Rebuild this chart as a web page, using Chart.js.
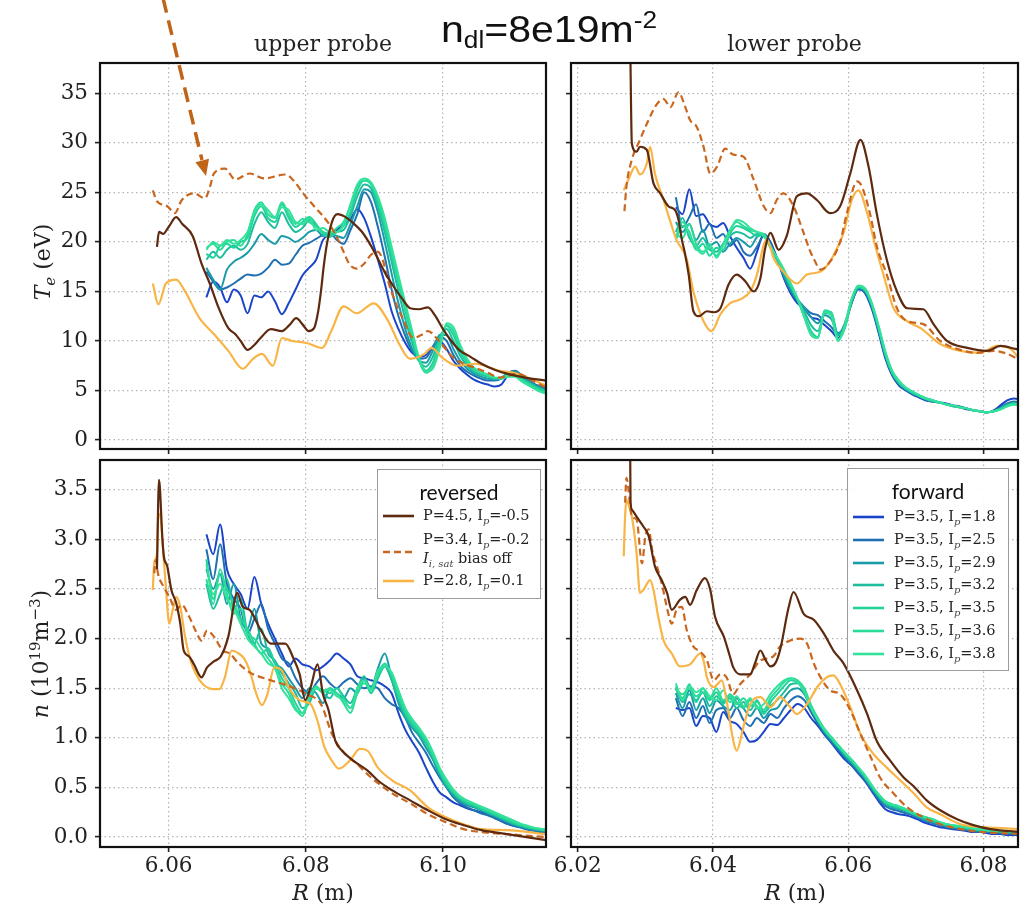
<!DOCTYPE html>
<html>
<head>
<meta charset="utf-8">
<script src="https://cdn.jsdelivr.net/npm/chart.js@4.4.0/dist/chart.umd.min.js"></script>
<style>
  body { margin: 0; background: #fff; }
  #fig { position: relative; width: 1025px; height: 906px; overflow: hidden; background: #fff; }
  #fig canvas { position: absolute; left: 0; top: 0; z-index: 1; }
  .lab { position: absolute; z-index: 2; font-family: 'DejaVu Serif', serif; font-size: 22px; color: #222; white-space: nowrap; transform: translate(-50%, -50%); }
  .ylab { transform: translate(-50%, -50%) rotate(-90deg); }
  .sm { font-size: 15px; position: relative; }
  .legend { position: absolute; z-index: 3; background: rgba(255,255,255,0.92); border: 1.5px solid #9c9c9c; box-sizing: border-box; font-family: 'DejaVu Serif', serif; font-size: 14.5px; color: #222; }
  .legend .ttl { position: absolute; left: 0; right: 0; text-align: center; font-family: Lato, sans-serif; font-size: 21px; line-height: 21px; color: #111; }
  .legend .txt { position: absolute; white-space: nowrap; line-height: 16px; }
  .legend svg { position: absolute; }
  .legend .p { font-style: italic; font-size: 10px; position: relative; top: 4px; color: #444; }
  #suptitle { position: absolute; z-index: 2; left: 441px; top: 10px; font-family: 'Liberation Sans', Arial, sans-serif; font-size: 36px; line-height: 40px; color: #111; white-space: nowrap; transform: scaleX(1.14); transform-origin: 0 0; }
  #arrow { position: absolute; left: 0; top: 0; z-index: 2; }
</style>
</head>
<body>
<div id="fig">
  <canvas id="teUpper" width="1025" height="906"></canvas>
  <canvas id="teLower" width="1025" height="906"></canvas>
  <canvas id="nUpper" width="1025" height="906"></canvas>
  <canvas id="nLower" width="1025" height="906"></canvas>

  <svg id="arrow" width="1025" height="906">
    <line x1="163" y1="-2" x2="202" y2="160" stroke="#bf6419" stroke-width="3.5" stroke-dasharray="15 8"/>
    <polygon points="206,176 195.4,162.2 209,158.8" fill="#bf6419"/>
  </svg>

  <div id="suptitle">n<span style="font-size:23px;position:relative;top:6px">dl</span>=8e19m<span style="font-size:23px;position:relative;top:-14px">-2</span></div>

  <div class="lab ylab" style="left:42px;top:262px"><i>T</i><span class="sm" style="top:5px"><i>e</i></span> (eV)</div>
  <div class="lab ylab" style="left:40px;top:654px"><i>n</i> (10<span class="sm" style="top:-8px">19</span>m<span class="sm" style="top:-8px">−3</span>)</div>
  <div class="lab" style="left:323px;top:892px"><i>R</i> (m)</div>
  <div class="lab" style="left:795px;top:892px"><i>R</i> (m)</div>

  <div class="legend" id="legRev" style="left:377px;top:469px;width:164px;height:130px"></div>
  <div class="legend" id="legFwd" style="left:847px;top:468px;width:162px;height:203px"></div>
</div>

<script>
// ---- ticks and axis ranges ----
var teTicks = [0, 5, 10, 15, 20, 25, 30, 35];
var nTicks = [0, 0.5, 1.0, 1.5, 2.0, 2.5, 3.0, 3.5];
var rTicksUpper = [6.06, 6.08, 6.10];
var rTicksLower = [6.02, 6.04, 6.06, 6.08];
var rRangeUpper = [6.05, 6.115];
var rRangeLower = [6.019, 6.0851];
var teRange = [-0.9, 38.05];
var nRange = [-0.1, 3.8];

// ---- R grids of the forward scans ----
var rUpperFwd = [6.0655, 6.0665, 6.0675, 6.0685, 6.0695, 6.0705, 6.0715, 6.0725, 6.0735, 6.0745, 6.0755, 6.0765, 6.0775, 6.0785, 6.0795, 6.0805, 6.0815, 6.0825, 6.0835, 6.0845, 6.0855, 6.0865, 6.0875, 6.0885, 6.0895, 6.0905, 6.0915, 6.0925, 6.0935, 6.0945, 6.0955, 6.0965, 6.0975, 6.0985, 6.0995, 6.1005, 6.1015, 6.1025, 6.1035, 6.1045, 6.1055, 6.1065, 6.1075, 6.1085, 6.1095, 6.1105, 6.1115, 6.1125, 6.1135, 6.1145, 6.1155];
var rLowerFwd = [6.0345, 6.0355, 6.0365, 6.0375, 6.0385, 6.0395, 6.0405, 6.0415, 6.0425, 6.0435, 6.0445, 6.0455, 6.0465, 6.0475, 6.0485, 6.0495, 6.0505, 6.0515, 6.0525, 6.0535, 6.0545, 6.0555, 6.0565, 6.0575, 6.0585, 6.0595, 6.0605, 6.0615, 6.0625, 6.0635, 6.0645, 6.0655, 6.0665, 6.0675, 6.0685, 6.0695, 6.0705, 6.0715, 6.0725, 6.0735, 6.0745, 6.0755, 6.0765, 6.0775, 6.0785, 6.0795, 6.0805, 6.0815, 6.0825, 6.0835, 6.0845, 6.0855];

// ---- reversed field scans: [R, value] ----
var teUpP45 = [[6.0583,19.5],[6.0586,21.0],[6.0592,20.8],[6.0600,21.5],[6.0611,22.5],[6.0620,21.8],[6.0635,20.6],[6.0648,17.8],[6.0660,15.8],[6.0672,13.5],[6.0687,11.3],[6.0697,10.7],[6.0705,10.0],[6.0715,9.1],[6.0725,9.6],[6.0734,10.3],[6.0749,11.2],[6.0765,11.0],[6.0776,11.6],[6.0786,12.3],[6.0796,11.6],[6.0804,11.0],[6.0812,11.3],[6.0818,13.0],[6.0822,15.0],[6.0826,17.5],[6.0830,19.5],[6.0838,22.0],[6.0846,22.8],[6.0858,22.5],[6.0869,21.9],[6.0882,21.0],[6.0895,19.6],[6.0905,18.3],[6.0916,16.8],[6.0926,15.7],[6.0940,14.3],[6.0952,13.3],[6.0965,13.2],[6.0978,13.4],[6.0988,12.6],[6.0999,11.3],[6.1012,10.0],[6.1025,9.0],[6.1040,8.4],[6.1056,7.7],[6.1075,7.1],[6.1093,6.7],[6.1120,6.3],[6.1150,6.0]];
var teUpP34 = [[6.0577,25.2],[6.0583,24.1],[6.0598,23.6],[6.0609,22.9],[6.0619,24.2],[6.0637,24.9],[6.0653,24.4],[6.0660,25.5],[6.0666,26.9],[6.0682,27.4],[6.0697,26.3],[6.0718,26.9],[6.0739,26.4],[6.0770,26.8],[6.0782,26.2],[6.0796,24.9],[6.0812,23.6],[6.0833,21.9],[6.0845,20.5],[6.0853,19.3],[6.0864,17.7],[6.0874,17.3],[6.0885,17.8],[6.0895,18.7],[6.0905,19.0],[6.0912,18.2],[6.0920,16.0],[6.0930,14.0],[6.0941,12.3],[6.0957,10.3],[6.0968,10.6],[6.0978,11.0],[6.0994,10.0],[6.1015,8.3],[6.1030,7.7],[6.1046,7.3],[6.1065,6.8],[6.1082,6.3],[6.1095,6.5],[6.1108,6.7],[6.1130,6.0],[6.1150,5.3]];
var teUpP28 = [[6.0577,15.8],[6.0585,13.7],[6.0596,15.8],[6.0611,16.2],[6.0624,15.0],[6.0645,12.3],[6.0666,10.7],[6.0687,9.0],[6.0708,7.2],[6.0723,8.2],[6.0736,8.7],[6.0752,7.5],[6.0765,10.3],[6.0780,10.0],[6.0801,9.8],[6.0824,9.3],[6.0837,11.0],[6.0855,13.5],[6.0874,12.8],[6.0899,13.8],[6.0920,12.0],[6.0936,9.7],[6.0952,8.2],[6.0973,8.7],[6.0983,9.3],[6.0999,8.3],[6.1020,7.5],[6.1046,7.7],[6.1082,7.0],[6.1108,6.7],[6.1150,5.5]];

var teLoP45 = [[6.0277,45],[6.0278,38],[6.0280,29.9],[6.0287,29.1],[6.0292,29.6],[6.0302,29.3],[6.0312,25.9],[6.0322,24.9],[6.0334,23.6],[6.0344,23.2],[6.0349,22.2],[6.0354,20.2],[6.0358,19.0],[6.0364,16.7],[6.0371,13.0],[6.0379,12.5],[6.0391,13.0],[6.0401,12.9],[6.0411,13.3],[6.0423,15.7],[6.0435,16.7],[6.0448,16.0],[6.0460,15.0],[6.0470,16.3],[6.0477,19.3],[6.0485,20.9],[6.0497,19.2],[6.0509,20.6],[6.0524,24.6],[6.0539,24.9],[6.0554,24.2],[6.0573,22.9],[6.0588,23.6],[6.0603,26.9],[6.0618,30.3],[6.0630,27.6],[6.0642,22.9],[6.0657,18.2],[6.0672,15.0],[6.0687,13.3],[6.0711,13.2],[6.0726,11.7],[6.0746,10.0],[6.0776,9.3],[6.0805,9.0],[6.0825,9.5],[6.0847,9.2],[6.0860,9.0]];
var teLoP34 = [[6.0269,23.1],[6.0272,25.6],[6.0280,28.3],[6.0292,30.3],[6.0302,31.9],[6.0317,33.9],[6.0327,34.4],[6.0337,33.6],[6.0349,35.1],[6.0359,33.6],[6.0366,32.3],[6.0376,31.6],[6.0386,29.6],[6.0396,26.9],[6.0406,27.6],[6.0418,29.4],[6.0430,28.8],[6.0445,28.6],[6.0460,26.3],[6.0475,23.6],[6.0485,22.9],[6.0494,24.2],[6.0504,24.9],[6.0519,23.6],[6.0534,20.9],[6.0544,19.0],[6.0549,18.3],[6.0559,17.2],[6.0573,18.0],[6.0588,20.0],[6.0598,22.9],[6.0613,26.1],[6.0620,25.6],[6.0633,22.6],[6.0642,19.6],[6.0657,16.7],[6.0672,13.3],[6.0687,12.0],[6.0711,11.7],[6.0736,10.0],[6.0761,9.2],[6.0790,8.8],[6.0815,9.0],[6.0835,8.7],[6.0860,7.8]];
var teLoP28 = [[6.0268,25.2],[6.0275,26.3],[6.0285,27.6],[6.0292,26.8],[6.0302,27.9],[6.0307,29.6],[6.0314,26.9],[6.0327,24.2],[6.0339,21.6],[6.0346,20.2],[6.0361,18.3],[6.0371,15.0],[6.0386,12.0],[6.0398,11.0],[6.0411,12.7],[6.0425,13.8],[6.0440,14.2],[6.0455,15.0],[6.0465,16.7],[6.0475,19.7],[6.0480,20.2],[6.0490,18.3],[6.0504,17.0],[6.0524,15.8],[6.0539,16.7],[6.0559,17.0],[6.0573,18.0],[6.0583,19.3],[6.0593,20.9],[6.0605,24.2],[6.0615,25.2],[6.0628,22.9],[6.0640,19.6],[6.0652,16.7],[6.0667,13.3],[6.0687,12.0],[6.0707,11.3],[6.0736,9.7],[6.0766,9.0],[6.0795,8.8],[6.0820,9.5],[6.0840,9.2],[6.0860,7.5]];

var nUpP45 = [[6.0583,2.7],[6.0586,3.6],[6.0591,3.0],[6.0593,2.83],[6.0598,2.73],[6.0604,2.49],[6.0611,2.36],[6.0617,2.15],[6.0622,1.88],[6.0630,1.82],[6.0637,1.74],[6.0648,1.61],[6.0656,1.71],[6.0666,1.77],[6.0676,1.82],[6.0687,2.02],[6.0700,2.46],[6.0708,2.32],[6.0718,2.29],[6.0734,2.09],[6.0749,1.95],[6.0770,1.95],[6.0782,1.8],[6.0791,1.64],[6.0799,1.38],[6.0807,1.51],[6.0817,1.74],[6.0825,1.44],[6.0833,1.28],[6.0843,0.97],[6.0853,0.87],[6.0869,0.77],[6.0890,0.67],[6.0905,0.57],[6.0926,0.47],[6.0952,0.37],[6.0978,0.27],[6.1004,0.18],[6.1030,0.12],[6.1056,0.07],[6.1093,0.03],[6.1150,-0.03]];
var nUpP34 = [[6.0579,2.66],[6.0581,2.79],[6.0585,2.64],[6.0593,2.52],[6.0601,2.42],[6.0611,2.29],[6.0619,2.34],[6.0630,2.22],[6.0640,2.07],[6.0648,1.98],[6.0656,2.08],[6.0666,2.02],[6.0679,1.88],[6.0689,1.85],[6.0702,1.75],[6.0718,1.66],[6.0749,1.58],[6.0780,1.51],[6.0801,1.44],[6.0822,1.34],[6.0838,1.04],[6.0853,0.87],[6.0874,0.74],[6.0895,0.60],[6.0926,0.44],[6.0952,0.34],[6.0978,0.23],[6.1004,0.15],[6.1030,0.08],[6.1056,0.05],[6.1093,0.03],[6.1150,0.0]];
var nUpP28 = [[6.0577,2.49],[6.0579,2.76],[6.0583,2.86],[6.0585,3.26],[6.0588,3.23],[6.0592,2.89],[6.0596,2.52],[6.0601,2.15],[6.0606,2.29],[6.0611,2.42],[6.0617,2.32],[6.0624,2.02],[6.0632,1.78],[6.0640,1.64],[6.0650,1.54],[6.0666,1.49],[6.0674,1.49],[6.0682,1.61],[6.0692,1.88],[6.0702,1.85],[6.0710,1.80],[6.0718,1.68],[6.0728,1.44],[6.0736,1.33],[6.0744,1.44],[6.0754,1.71],[6.0765,1.68],[6.0775,1.51],[6.0791,1.38],[6.0807,1.34],[6.0817,1.17],[6.0827,0.91],[6.0838,0.77],[6.0848,0.69],[6.0864,0.77],[6.0879,0.89],[6.0890,0.87],[6.0905,0.70],[6.0926,0.57],[6.0952,0.47],[6.0978,0.30],[6.1004,0.20],[6.1030,0.13],[6.1056,0.08],[6.1093,0.07],[6.1150,0.03]];

var nLoP45 = [[6.0277,4.5],[6.0278,3.4],[6.0280,3.3],[6.0287,3.23],[6.0297,3.13],[6.0305,3.03],[6.0314,2.73],[6.0324,2.59],[6.0332,2.46],[6.0339,2.29],[6.0351,2.39],[6.0359,2.42],[6.0366,2.34],[6.0376,2.49],[6.0388,2.61],[6.0396,2.49],[6.0403,2.22],[6.0416,2.02],[6.0425,1.82],[6.0430,1.71],[6.0440,1.64],[6.0455,1.64],[6.0462,1.75],[6.0470,1.88],[6.0478,1.78],[6.0485,1.72],[6.0492,1.75],[6.0499,1.88],[6.0512,2.32],[6.0519,2.47],[6.0534,2.25],[6.0549,2.19],[6.0564,2.05],[6.0578,1.88],[6.0593,1.75],[6.0613,1.48],[6.0628,1.24],[6.0642,0.97],[6.0662,0.77],[6.0682,0.60],[6.0697,0.51],[6.0716,0.37],[6.0736,0.27],[6.0761,0.18],[6.0785,0.12],[6.0810,0.08],[6.0860,0.05]];
var nLoP34 = [[6.0270,3.37],[6.0272,3.62],[6.0275,3.50],[6.0280,3.23],[6.0287,3.20],[6.0295,2.76],[6.0300,3.03],[6.0305,3.10],[6.0310,2.89],[6.0317,2.73],[6.0324,2.56],[6.0334,2.25],[6.0339,2.15],[6.0346,2.29],[6.0354,2.32],[6.0361,2.09],[6.0371,1.92],[6.0381,1.87],[6.0391,1.78],[6.0401,1.58],[6.0411,1.64],[6.0420,1.61],[6.0430,1.44],[6.0440,1.54],[6.0455,1.64],[6.0470,1.78],[6.0489,1.82],[6.0499,1.92],[6.0514,1.98],[6.0529,2.00],[6.0539,1.95],[6.0549,1.75],[6.0559,1.61],[6.0573,1.48],[6.0588,1.44],[6.0603,1.28],[6.0618,1.04],[6.0633,0.81],[6.0647,0.60],[6.0667,0.44],[6.0687,0.30],[6.0711,0.20],[6.0736,0.13],[6.0766,0.08],[6.0800,0.05],[6.0860,0.03]];
var nLoP28 = [[6.0268,2.83],[6.0270,3.23],[6.0272,3.40],[6.0276,3.33],[6.0280,3.23],[6.0287,2.86],[6.0292,2.46],[6.0297,2.49],[6.0307,2.59],[6.0312,2.49],[6.0319,2.22],[6.0327,1.98],[6.0339,1.85],[6.0351,1.72],[6.0366,1.74],[6.0381,1.85],[6.0386,1.78],[6.0391,1.61],[6.0401,1.51],[6.0413,1.58],[6.0420,1.38],[6.0430,0.97],[6.0435,0.87],[6.0445,1.11],[6.0455,1.34],[6.0470,1.41],[6.0485,1.31],[6.0499,1.41],[6.0514,1.31],[6.0524,1.24],[6.0539,1.34],[6.0554,1.51],[6.0568,1.61],[6.0578,1.63],[6.0588,1.54],[6.0603,1.31],[6.0618,1.04],[6.0637,0.84],[6.0657,0.70],[6.0677,0.57],[6.0697,0.44],[6.0716,0.30],[6.0736,0.23],[6.0766,0.13],[6.0800,0.10],[6.0860,0.08]];

// ---- forward field scans on the R grids (Ip = 1.8, 2.5, 2.9, 3.2, 3.5, 3.6, 3.8) ----
var teUpFwd18 = [14.4, 16.0, 15.4, 13.9, 15.2, 14.6, 12.8, 14.6, 14.4, 15.0, 14.0, 12.7, 13.8, 15.2, 16.6, 17.4, 18.2, 20.2, 20.8, 21.2, 21.8, 22.3, 23.3, 22.4, 20.5, 18.2, 15.8, 13.0, 11.2, 9.8, 8.8, 8.4, 8.6, 9.4, 10.0, 9.2, 8.0, 7.2, 6.6, 6.1, 5.8, 5.6, 5.4, 5.6, 6.6, 6.9, 6.4, 5.9, 5.5, 5.2, 5.0];
var teUpFwd25 = [17.0, 16.0, 15.2, 15.4, 15.8, 16.3, 16.7, 16.6, 16.8, 17.4, 18.2, 17.7, 17.8, 18.7, 19.6, 19.9, 20.3, 20.7, 20.9, 20.2, 19.8, 21.2, 22.8, 25.0, 24.0, 21.5, 18.5, 15.2, 12.5, 10.5, 9.0, 8.2, 8.3, 9.4, 10.4, 10.0, 8.6, 7.5, 6.9, 6.5, 6.2, 6.0, 6.0, 6.2, 6.8, 7.0, 6.5, 6.0, 5.6, 5.3, 5.0];
var teUpFwd29 = [17.4, 16.2, 15.2, 17.2, 18.0, 18.4, 18.9, 19.8, 20.8, 20.2, 19.8, 20.6, 20.4, 20.0, 20.4, 21.0, 21.2, 20.6, 20.8, 20.6, 20.4, 21.8, 23.6, 25.3, 25.0, 23.0, 20.0, 16.8, 13.8, 11.2, 9.2, 8.0, 7.8, 9.0, 10.6, 10.6, 9.2, 8.0, 7.2, 6.7, 6.4, 6.2, 6.1, 6.3, 6.8, 6.9, 6.4, 5.9, 5.5, 5.2, 4.9];
var teUpFwd32 = [18.2, 19.0, 18.4, 19.2, 19.6, 19.2, 19.8, 21.8, 23.0, 22.0, 21.4, 23.0, 21.8, 21.0, 21.4, 22.2, 21.6, 21.0, 20.6, 21.0, 21.2, 22.6, 24.6, 25.8, 25.4, 23.6, 21.0, 18.0, 15.0, 12.2, 9.8, 8.0, 7.4, 8.4, 10.4, 11.2, 10.0, 8.5, 7.5, 6.9, 6.6, 6.4, 6.2, 6.3, 6.7, 6.7, 6.2, 5.8, 5.4, 5.1, 4.8];
var teUpFwd35 = [18.8, 18.4, 19.6, 19.8, 19.4, 20.0, 20.4, 22.6, 23.6, 22.4, 22.0, 23.8, 22.4, 21.5, 22.0, 22.5, 21.8, 20.8, 20.5, 21.0, 21.6, 23.0, 25.2, 26.2, 25.8, 24.0, 21.6, 18.6, 15.8, 13.0, 10.4, 8.2, 7.0, 7.8, 10.0, 11.5, 10.6, 8.9, 7.8, 7.1, 6.8, 6.5, 6.3, 6.3, 6.6, 6.6, 6.1, 5.7, 5.3, 5.0, 4.8];
var teUpFwd36 = [19.4, 19.8, 19.2, 20.0, 20.2, 19.6, 20.8, 23.2, 24.0, 22.8, 22.4, 24.0, 22.8, 21.8, 22.3, 22.0, 21.5, 21.0, 20.8, 21.4, 22.0, 23.6, 25.6, 26.2, 25.9, 24.3, 22.0, 19.0, 16.2, 13.4, 10.6, 8.0, 6.8, 7.4, 9.6, 11.6, 11.0, 9.2, 8.0, 7.2, 6.8, 6.5, 6.3, 6.2, 6.5, 6.5, 6.0, 5.6, 5.2, 4.9, 4.7];
var teUpFwd38 = [19.2, 20.0, 19.6, 20.2, 19.8, 20.2, 21.0, 23.0, 23.8, 23.2, 22.5, 23.5, 23.2, 22.0, 21.8, 22.4, 21.2, 21.4, 21.0, 21.0, 21.8, 23.8, 25.8, 26.4, 26.0, 24.6, 22.4, 19.5, 16.6, 13.8, 11.0, 8.3, 6.9, 7.2, 9.2, 11.8, 11.4, 9.6, 8.2, 7.3, 6.9, 6.6, 6.3, 6.2, 6.4, 6.4, 5.9, 5.5, 5.1, 4.8, 4.6];

var teLoFwd18 = [23.5, 22.8, 25.3, 22.6, 22.8, 21.8, 21.5, 21.9, 20.6, 19.4, 18.4, 17.3, 19.0, 20.8, 20.0, 18.3, 16.3, 14.8, 13.8, 13.3, 12.4, 12.2, 11.6, 11.0, 10.3, 11.6, 13.8, 15.3, 14.8, 13.2, 10.8, 8.2, 6.5, 5.5, 5.0, 4.6, 4.3, 4.0, 3.9, 3.8, 3.7, 3.5, 3.3, 3.1, 3.0, 2.9, 2.8, 3.0, 3.5, 4.0, 4.2, 4.1];
var teLoFwd25 = [24.5, 21.5, 22.5, 23.8, 21.0, 21.8, 20.4, 20.8, 19.6, 20.2, 19.0, 18.6, 19.5, 20.6, 19.8, 18.2, 16.4, 15.0, 14.0, 13.4, 12.8, 12.6, 12.0, 11.4, 10.6, 11.8, 13.9, 15.2, 14.9, 13.4, 11.0, 8.4, 6.6, 5.6, 5.1, 4.7, 4.4, 4.1, 3.9, 3.8, 3.6, 3.5, 3.4, 3.2, 3.0, 2.9, 2.8, 2.9, 3.3, 3.7, 3.9, 3.8];
var teLoFwd29 = [22.0, 21.0, 21.8, 20.2, 21.2, 19.6, 20.0, 19.0, 19.8, 20.4, 20.0, 19.5, 20.5, 20.8, 19.6, 18.1, 16.6, 15.2, 14.2, 13.4, 12.4, 11.8, 12.6, 12.2, 10.8, 11.6, 14.0, 15.4, 15.0, 13.5, 11.1, 8.5, 6.7, 5.7, 5.1, 4.7, 4.4, 4.1, 3.9, 3.8, 3.6, 3.4, 3.3, 3.2, 3.0, 2.9, 2.8, 2.9, 3.2, 3.6, 3.8, 3.7];
var teLoFwd32 = [21.0, 22.4, 20.4, 19.6, 20.4, 19.2, 19.0, 19.8, 20.6, 21.0, 20.8, 20.4, 20.8, 20.6, 19.5, 18.2, 16.8, 15.4, 14.2, 13.0, 11.6, 11.0, 12.8, 12.8, 10.6, 11.4, 14.0, 15.4, 15.1, 13.6, 11.2, 8.6, 6.8, 5.8, 5.2, 4.8, 4.5, 4.2, 4.0, 3.8, 3.6, 3.4, 3.3, 3.2, 3.0, 2.9, 2.8, 2.9, 3.2, 3.5, 3.7, 3.6];
var teLoFwd35 = [20.2, 21.6, 21.0, 19.2, 19.8, 18.6, 19.4, 19.2, 20.8, 21.6, 21.4, 21.0, 20.6, 20.7, 19.6, 18.3, 17.0, 15.6, 14.2, 12.6, 11.0, 10.4, 13.0, 12.9, 10.2, 11.3, 14.1, 15.5, 15.2, 13.7, 11.3, 8.7, 6.8, 5.8, 5.2, 4.8, 4.5, 4.2, 4.0, 3.8, 3.6, 3.5, 3.3, 3.2, 3.0, 2.9, 2.8, 2.9, 3.1, 3.5, 3.7, 3.6];
var teLoFwd36 = [20.8, 20.4, 21.8, 19.8, 19.0, 19.4, 18.6, 19.8, 21.2, 22.0, 21.6, 21.2, 21.0, 20.6, 19.4, 18.3, 17.1, 15.7, 14.2, 12.4, 10.7, 10.3, 13.1, 12.7, 10.0, 11.5, 14.2, 15.5, 15.2, 13.7, 11.4, 8.8, 6.9, 5.9, 5.3, 4.9, 4.5, 4.2, 4.0, 3.8, 3.6, 3.5, 3.3, 3.2, 3.0, 2.9, 2.8, 2.9, 3.1, 3.4, 3.6, 3.5];
var teLoFwd38 = [20.4, 22.0, 20.8, 19.4, 18.8, 19.8, 18.4, 19.6, 21.0, 22.2, 22.0, 21.4, 21.0, 20.8, 19.5, 18.4, 17.2, 15.8, 14.3, 12.4, 10.6, 10.3, 12.9, 12.5, 10.0, 11.7, 14.3, 15.6, 15.3, 13.8, 11.5, 8.9, 7.0, 6.0, 5.3, 4.9, 4.5, 4.2, 4.0, 3.8, 3.6, 3.5, 3.3, 3.2, 3.0, 2.9, 2.8, 2.9, 3.1, 3.4, 3.6, 3.5];

var nUpFwd18 = [3.05, 2.85, 3.15, 2.7, 2.55, 2.45, 2.3, 2.62, 2.35, 2.15, 2.0, 1.85, 1.72, 1.8, 1.74, 1.72, 1.68, 1.72, 1.78, 1.85, 1.8, 1.74, 1.62, 1.6, 1.58, 1.56, 1.52, 1.45, 1.25, 1.08, 0.96, 0.85, 0.7, 0.56, 0.45, 0.4, 0.35, 0.32, 0.29, 0.27, 0.25, 0.23, 0.2, 0.16, 0.13, 0.11, 0.1, 0.08, 0.06, 0.04, 0.03];
var nUpFwd25 = [2.9, 2.6, 2.95, 2.55, 2.4, 2.3, 2.05, 2.2, 2.35, 2.1, 1.95, 1.8, 1.75, 1.6, 1.5, 1.45, 1.55, 1.62, 1.55, 1.5, 1.56, 1.6, 1.54, 1.5, 1.52, 1.5, 1.4, 1.34, 1.3, 1.2, 1.05, 0.95, 0.85, 0.72, 0.6, 0.5, 0.4, 0.34, 0.3, 0.27, 0.24, 0.22, 0.19, 0.16, 0.13, 0.11, 0.09, 0.07, 0.06, 0.05, 0.04];
var nUpFwd29 = [2.7, 2.5, 2.65, 2.35, 2.55, 2.2, 2.1, 2.3, 1.95, 1.9, 1.75, 1.7, 1.6, 1.5, 1.4, 1.5, 1.45, 1.35, 1.5, 1.45, 1.4, 1.5, 1.45, 1.6, 1.5, 1.7, 1.85, 1.6, 1.35, 1.2, 1.1, 1.02, 0.9, 0.78, 0.62, 0.5, 0.42, 0.36, 0.32, 0.3, 0.27, 0.24, 0.21, 0.18, 0.15, 0.12, 0.1, 0.08, 0.07, 0.06, 0.05];
var nUpFwd32 = [2.55, 2.3, 2.45, 2.6, 2.3, 2.4, 2.05, 1.95, 2.1, 1.85, 1.78, 1.65, 1.55, 1.45, 1.3, 1.35, 1.5, 1.45, 1.4, 1.5, 1.42, 1.35, 1.5, 1.62, 1.45, 1.6, 1.72, 1.58, 1.38, 1.22, 1.12, 1.04, 0.94, 0.8, 0.65, 0.52, 0.44, 0.38, 0.34, 0.31, 0.28, 0.25, 0.22, 0.19, 0.16, 0.13, 0.11, 0.09, 0.08, 0.07, 0.06];
var nUpFwd35 = [2.8, 2.4, 2.65, 2.5, 2.35, 2.2, 2.1, 1.95, 1.85, 1.9, 1.75, 1.6, 1.5, 1.35, 1.25, 1.4, 1.5, 1.48, 1.45, 1.5, 1.4, 1.3, 1.45, 1.58, 1.45, 1.65, 1.75, 1.62, 1.42, 1.25, 1.15, 1.06, 0.96, 0.82, 0.66, 0.54, 0.45, 0.39, 0.35, 0.32, 0.29, 0.26, 0.23, 0.2, 0.17, 0.14, 0.12, 0.1, 0.08, 0.07, 0.06];
var nUpFwd36 = [2.6, 2.35, 2.7, 2.45, 2.25, 2.3, 2.05, 2.0, 1.9, 1.8, 1.7, 1.55, 1.45, 1.3, 1.22, 1.4, 1.52, 1.46, 1.5, 1.45, 1.35, 1.25, 1.45, 1.55, 1.5, 1.62, 1.74, 1.64, 1.45, 1.28, 1.17, 1.08, 0.98, 0.84, 0.68, 0.56, 0.46, 0.4, 0.36, 0.33, 0.3, 0.27, 0.24, 0.21, 0.18, 0.15, 0.12, 0.1, 0.09, 0.08, 0.07];
var nUpFwd38 = [2.75, 2.45, 2.55, 2.4, 2.3, 2.15, 2.0, 1.92, 1.85, 1.75, 1.7, 1.5, 1.4, 1.28, 1.25, 1.42, 1.5, 1.48, 1.48, 1.42, 1.38, 1.3, 1.5, 1.58, 1.48, 1.68, 1.72, 1.66, 1.48, 1.3, 1.19, 1.1, 1.0, 0.86, 0.7, 0.58, 0.48, 0.41, 0.37, 0.34, 0.31, 0.28, 0.25, 0.22, 0.19, 0.16, 0.13, 0.11, 0.09, 0.08, 0.07];

var nLoFwd18 = [1.3, 1.28, 1.3, 1.12, 1.22, 1.2, 1.06, 1.26, 1.17, 1.14, 1.06, 0.96, 0.98, 1.06, 1.14, 1.13, 1.2, 1.28, 1.34, 1.3, 1.2, 1.12, 1.03, 0.95, 0.86, 0.78, 0.72, 0.64, 0.56, 0.46, 0.36, 0.28, 0.25, 0.23, 0.22, 0.2, 0.17, 0.14, 0.12, 0.1, 0.09, 0.08, 0.07, 0.06, 0.05, 0.05, 0.04, 0.03, 0.03, 0.02, 0.02, 0.02];
var nLoFwd25 = [1.4, 1.22, 1.36, 1.2, 1.32, 1.15, 1.28, 1.3, 1.2, 1.3, 1.18, 1.12, 1.2, 1.15, 1.24, 1.2, 1.3, 1.38, 1.42, 1.38, 1.26, 1.14, 1.04, 0.96, 0.88, 0.8, 0.73, 0.65, 0.57, 0.47, 0.38, 0.31, 0.28, 0.26, 0.24, 0.22, 0.19, 0.16, 0.14, 0.12, 0.1, 0.09, 0.08, 0.07, 0.06, 0.05, 0.05, 0.04, 0.04, 0.03, 0.03, 0.03];
var nLoFwd29 = [1.45, 1.3, 1.48, 1.28, 1.4, 1.25, 1.38, 1.32, 1.28, 1.4, 1.3, 1.22, 1.3, 1.2, 1.28, 1.3, 1.4, 1.48, 1.5, 1.44, 1.3, 1.17, 1.06, 0.98, 0.9, 0.82, 0.75, 0.67, 0.59, 0.49, 0.4, 0.33, 0.3, 0.28, 0.26, 0.23, 0.2, 0.17, 0.15, 0.13, 0.11, 0.1, 0.09, 0.08, 0.07, 0.06, 0.06, 0.05, 0.05, 0.04, 0.04, 0.04];
var nLoFwd32 = [1.5, 1.36, 1.44, 1.38, 1.46, 1.32, 1.42, 1.36, 1.4, 1.3, 1.36, 1.28, 1.38, 1.26, 1.32, 1.38, 1.46, 1.54, 1.55, 1.46, 1.3, 1.18, 1.07, 0.99, 0.91, 0.83, 0.76, 0.68, 0.6, 0.5, 0.41, 0.34, 0.31, 0.29, 0.27, 0.24, 0.21, 0.18, 0.16, 0.14, 0.12, 0.11, 0.1, 0.09, 0.08, 0.07, 0.06, 0.06, 0.05, 0.05, 0.05, 0.04];
var nLoFwd35 = [1.52, 1.4, 1.54, 1.36, 1.5, 1.38, 1.46, 1.34, 1.44, 1.36, 1.3, 1.38, 1.32, 1.24, 1.36, 1.44, 1.52, 1.58, 1.56, 1.48, 1.32, 1.19, 1.08, 1.0, 0.92, 0.84, 0.77, 0.69, 0.61, 0.51, 0.42, 0.35, 0.32, 0.3, 0.27, 0.24, 0.21, 0.19, 0.17, 0.15, 0.13, 0.11, 0.1, 0.09, 0.08, 0.07, 0.07, 0.06, 0.06, 0.05, 0.05, 0.05];
var nLoFwd36 = [1.48, 1.44, 1.5, 1.42, 1.46, 1.4, 1.5, 1.38, 1.42, 1.34, 1.4, 1.32, 1.36, 1.28, 1.4, 1.48, 1.56, 1.6, 1.58, 1.5, 1.33, 1.2, 1.09, 1.01, 0.93, 0.85, 0.78, 0.7, 0.62, 0.52, 0.43, 0.36, 0.33, 0.31, 0.28, 0.25, 0.22, 0.2, 0.18, 0.15, 0.13, 0.12, 0.11, 0.1, 0.09, 0.08, 0.07, 0.06, 0.06, 0.05, 0.05, 0.05];
var nLoFwd38 = [1.55, 1.38, 1.52, 1.46, 1.5, 1.42, 1.38, 1.48, 1.36, 1.42, 1.32, 1.4, 1.3, 1.34, 1.44, 1.52, 1.58, 1.6, 1.56, 1.46, 1.3, 1.18, 1.08, 1.0, 0.92, 0.85, 0.78, 0.7, 0.62, 0.52, 0.43, 0.36, 0.33, 0.31, 0.28, 0.25, 0.22, 0.2, 0.18, 0.15, 0.13, 0.12, 0.11, 0.1, 0.09, 0.08, 0.07, 0.06, 0.06, 0.05, 0.05, 0.05];

// ---- labels and styles ----
var revLabels = ['P=4.5, Ip=-0.5', 'P=3.4, Ip=-0.2 Ii,sat bias off', 'P=2.8, Ip=0.1'];
var revColors = ['#5e2a0f', '#c9661f', '#f8b445'];
var revDashes = [[], [7, 4], []];
var fwdP = ['3.5', '3.5', '3.5', '3.5', '3.5', '3.5', '3.6'];
var fwdIp = ['1.8', '2.5', '2.9', '3.2', '3.5', '3.6', '3.8'];
var fwdColors = ['#1b45c9', '#1f70b2', '#1a9ba9', '#1dbd9d', '#22d29b', '#2bdb98', '#33e29a'];

var framePlugin = {
  id: 'frame',
  afterDraw: function (chart) {
    var a = chart.chartArea, ctx = chart.ctx;
    ctx.save();
    ctx.strokeStyle = '#111';
    ctx.lineWidth = 2.2;
    ctx.strokeRect(a.left, a.top, a.right - a.left, a.bottom - a.top);
    ctx.restore();
  }
};

function revSets(list) {
  return list.map(function (s, k) {
    return {
      label: revLabels[k],
      data: s.map(function (p) { return {x: p[0], y: p[1]}; }),
      borderColor: revColors[k], borderDash: revDashes[k], borderWidth: 2.2
    };
  });
}
function fwdSets(grid, list) {
  var sets = list.map(function (s, k) {
    return {
      label: 'P=' + fwdP[k] + ', Ip=' + fwdIp[k],
      data: s.map(function (v, i) { return {x: grid[i], y: v}; }),
      borderColor: fwdColors[k], borderWidth: 2
    };
  });
  return sets.reverse(); // highest Ip drawn on top
}

function axes(xr, yr, xt, yt, showX, showY, yDigits) {
  var font = {family: 'DejaVu Serif', size: 21.5};
  function grid() {
    return {color: '#b4b4b4', lineWidth: 1.2, tickLength: 5, tickColor: '#222', tickWidth: 1.6, tickBorderDash: []};
  }
  return {
    x: {
      type: 'linear', min: xr[0], max: xr[1], grid: grid(), border: {display: false, dash: [1.5, 3]},
      afterBuildTicks: function (s) { s.ticks = xt.map(function (v) { return {value: v}; }); },
      afterFit: function (s) { s.height = showX ? 50 : 8; },
      ticks: {display: showX, color: '#222', font: font, padding: 2, maxRotation: 0, autoSkip: false,
        callback: function (v) { return v.toFixed(2); }}
    },
    y: {
      type: 'linear', min: yr[0], max: yr[1], grid: grid(), border: {display: false, dash: [1.5, 3]},
      afterBuildTicks: function (s) { s.ticks = yt.map(function (v) { return {value: v}; }); },
      afterFit: function (s) { s.width = 60; },
      ticks: {display: showY, color: '#222', font: font, padding: 7,
        callback: function (v) { return v.toFixed(yDigits); }}
    }
  };
}

function panel(id, datasets, scales, padding, title) {
  return new Chart(document.getElementById(id), {
    type: 'line',
    data: {datasets: datasets},
    options: {
      responsive: false, animation: false, events: [],
      layout: {padding: padding},
      elements: {point: {radius: 0}, line: {cubicInterpolationMode: 'monotone'}},
      plugins: {
        legend: {display: false},
        tooltip: {enabled: false},
        title: title ? {display: true, text: title, fullSize: false, color: '#222',
          font: {family: 'DejaVu Serif', size: 22, weight: 'normal'}, padding: {top: 31.6, bottom: 5}} : {display: false}
      },
      scales: scales
    },
    plugins: [framePlugin]
  });
}

panel('teUpper',
  revSets([teUpP45, teUpP34, teUpP28]).concat(fwdSets(rUpperFwd, [teUpFwd18, teUpFwd25, teUpFwd29, teUpFwd32, teUpFwd35, teUpFwd36, teUpFwd38])),
  axes(rRangeUpper, teRange, rTicksUpper, teTicks, false, true, 0),
  {left: 40, right: 479, top: 0, bottom: 449}, 'upper probe');

panel('teLower',
  revSets([teLoP45, teLoP34, teLoP28]).concat(fwdSets(rLowerFwd, [teLoFwd18, teLoFwd25, teLoFwd29, teLoFwd32, teLoFwd35, teLoFwd36, teLoFwd38])),
  axes(rRangeLower, teRange, rTicksLower, teTicks, false, false, 0),
  {left: 511, right: 7, top: 0, bottom: 449}, 'lower probe');

panel('nUpper',
  revSets([nUpP45, nUpP34, nUpP28]).concat(fwdSets(rUpperFwd, [nUpFwd18, nUpFwd25, nUpFwd29, nUpFwd32, nUpFwd35, nUpFwd36, nUpFwd38])),
  axes(rRangeUpper, nRange, rTicksUpper, nTicks, true, true, 1),
  {left: 40, right: 479, top: 460, bottom: 9}, null);

panel('nLower',
  revSets([nLoP45, nLoP34, nLoP28]).concat(fwdSets(rLowerFwd, [nLoFwd18, nLoFwd25, nLoFwd29, nLoFwd32, nLoFwd35, nLoFwd36, nLoFwd38])),
  axes(rRangeLower, nRange, rTicksLower, nTicks, true, false, 1),
  {left: 511, right: 7, top: 460, bottom: 9}, null);

// ---- legends (HTML, built from the same labels and styles) ----
function swatch(color, dash, top) {
  return '<svg style="left:5px;top:' + (top - 3) + 'px" width="31" height="6"><line x1="0" y1="3" x2="31" y2="3" stroke="' +
    color + '" stroke-width="2.6"' + (dash.length ? ' stroke-dasharray="' + dash.join(' ') + '"' : '') + '/></svg>';
}
function ipText(p, ip) { return 'P=' + p + ', I<span class="p">p</span>=' + ip; }

var rev = document.getElementById('legRev');
var revRows = [46, 82, 111];
var h = '<div class="ttl" style="top:11px">reversed</div>';
h += swatch(revColors[0], revDashes[0], revRows[0]) + '<div class="txt" style="left:45px;top:' + (revRows[0] - 9) + 'px">' + ipText('4.5', '-0.5') + '</div>';
h += swatch(revColors[1], revDashes[1], revRows[1]) + '<div class="txt" style="left:45px;top:' + (70 - 9) + 'px">' + ipText('3.4', '-0.2') + '</div>';
h += '<div class="txt" style="left:45px;top:' + (89 - 9) + 'px"><i>I</i><span class="p">i, sat</span> bias off</div>';
h += swatch(revColors[2], revDashes[2], revRows[2]) + '<div class="txt" style="left:45px;top:' + (revRows[2] - 9) + 'px">' + ipText('2.8', '0.1') + '</div>';
rev.innerHTML = h;

var fwd = document.getElementById('legFwd');
var g = '<div class="ttl" style="top:11px">forward</div>';
for (var k = 0; k < fwdIp.length; k++) {
  var y = 48 + k * 22.8;
  g += swatch(fwdColors[k], [], y) + '<div class="txt" style="left:46px;top:' + (y - 9) + 'px">' + ipText(fwdP[k], fwdIp[k]) + '</div>';
}
fwd.innerHTML = g;
</script>
</body>
</html>
